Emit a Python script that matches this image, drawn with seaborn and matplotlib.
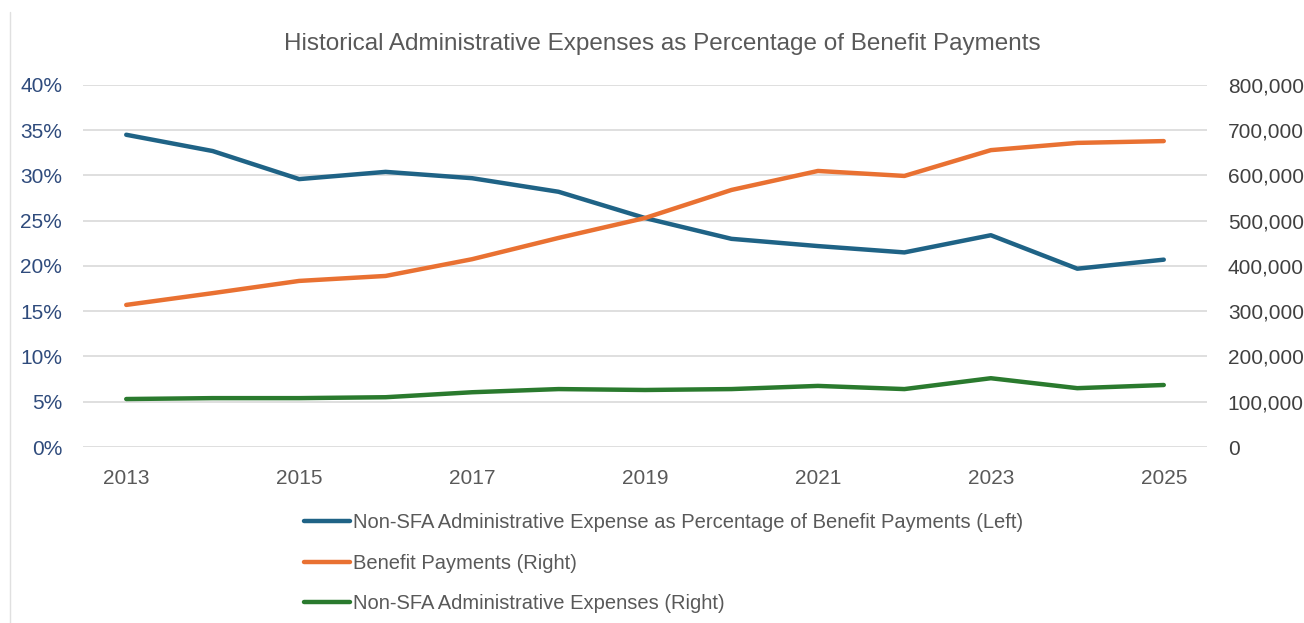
import matplotlib
matplotlib.use("Agg")
import matplotlib.pyplot as plt
import seaborn as sns
import pandas as pd
from matplotlib.ticker import FuncFormatter, MultipleLocator

years = [2013, 2014, 2015, 2016, 2017, 2018, 2019, 2020, 2021, 2022, 2023, 2024, 2025]
pct_admin = [34.5, 32.7, 29.6, 30.4, 29.7, 28.2, 25.3, 23.0, 22.2, 21.5, 23.4, 19.7, 20.7]
benefit_payments = [314000, 340000, 367000, 378000, 415000, 462000, 506000, 568000, 610000, 599000, 656000, 672000, 676000]
admin_expenses = [106000, 108000, 108000, 110000, 121000, 128000, 126000, 128000, 135000, 128000, 152000, 130000, 137000]

labels = ["Non-SFA Administrative Expense as Percentage of Benefit Payments (Left)",
          "Benefit Payments (Right)",
          "Non-SFA Administrative Expenses (Right)"]
title = "Historical Administrative Expenses as Percentage of Benefit Payments"

sns.set_theme(style="white")
plt.rcParams['font.family'] = ['Liberation Sans', 'DejaVu Sans']

df = pd.DataFrame({"year": years, "pct": pct_admin, "bp": benefit_payments, "ae": admin_expenses})

fig = plt.figure(figsize=(13.04, 6.23), dpi=100)
ax = fig.add_axes([83 / 1304, 0.2825, 1124 / 1304, 0.5811])
ax2 = ax.twinx()

c_blue = "#1F6386"
c_orange = "#E97132"
c_green = "#2A7A2E"

sns.lineplot(data=df, x="year", y="pct", ax=ax, color=c_blue, linewidth=3.2, label=labels[0], legend=False)
sns.lineplot(data=df, x="year", y="bp", ax=ax2, color=c_orange, linewidth=3.2, label=labels[1], legend=False)
sns.lineplot(data=df, x="year", y="ae", ax=ax2, color=c_green, linewidth=3.2, label=labels[2], legend=False)

ax.set_ylim(0, 40)
ax2.set_ylim(0, 800000)
ax.set_xlim(2012.5, 2025.5)
ax.yaxis.set_major_locator(MultipleLocator(5))
ax2.yaxis.set_major_locator(MultipleLocator(100000))
ax.set_xticks([2013, 2015, 2017, 2019, 2021, 2023, 2025])
ax.yaxis.set_major_formatter(FuncFormatter(lambda v, p: f"{int(v)}%"))
ax2.yaxis.set_major_formatter(FuncFormatter(lambda v, p: f"{int(v):,}"))

ax.grid(axis="y", color="#D9D9D9", linewidth=1.2)
ax.set_axisbelow(True)
for a in (ax, ax2):
    for s in a.spines.values():
        s.set_visible(False)
    a.set_xlabel("")
    a.set_ylabel("")
ax.tick_params(axis="y", length=0, labelsize=15, labelcolor="#2F4B7C", pad=15)
ax2.tick_params(axis="y", length=0, labelsize=15, labelcolor="#404040", pad=15)
ax.tick_params(axis="x", length=0, labelsize=15, labelcolor="#595959", pad=16)

fig.text(0.508, 0.93, title, ha="center", va="center", fontsize=17.5, color="#595959")

handles = ax.get_lines()[:1] + ax2.get_lines()[:2]
fig.legend(handles, labels, loc="upper left", bbox_to_anchor=(0.2266, 0.189), frameon=False,
           fontsize=14.5, labelcolor="#595959", handlelength=2.3, handletextpad=0.15,
           labelspacing=1.06, borderaxespad=0)

# faint chart-area border on the left
fig.add_artist(plt.Line2D([0.008, 0.008], [0.0, 0.98], color="#E0E0E0", linewidth=1, transform=fig.transFigure))

fig.savefig("out.png", dpi=100, facecolor="white")
